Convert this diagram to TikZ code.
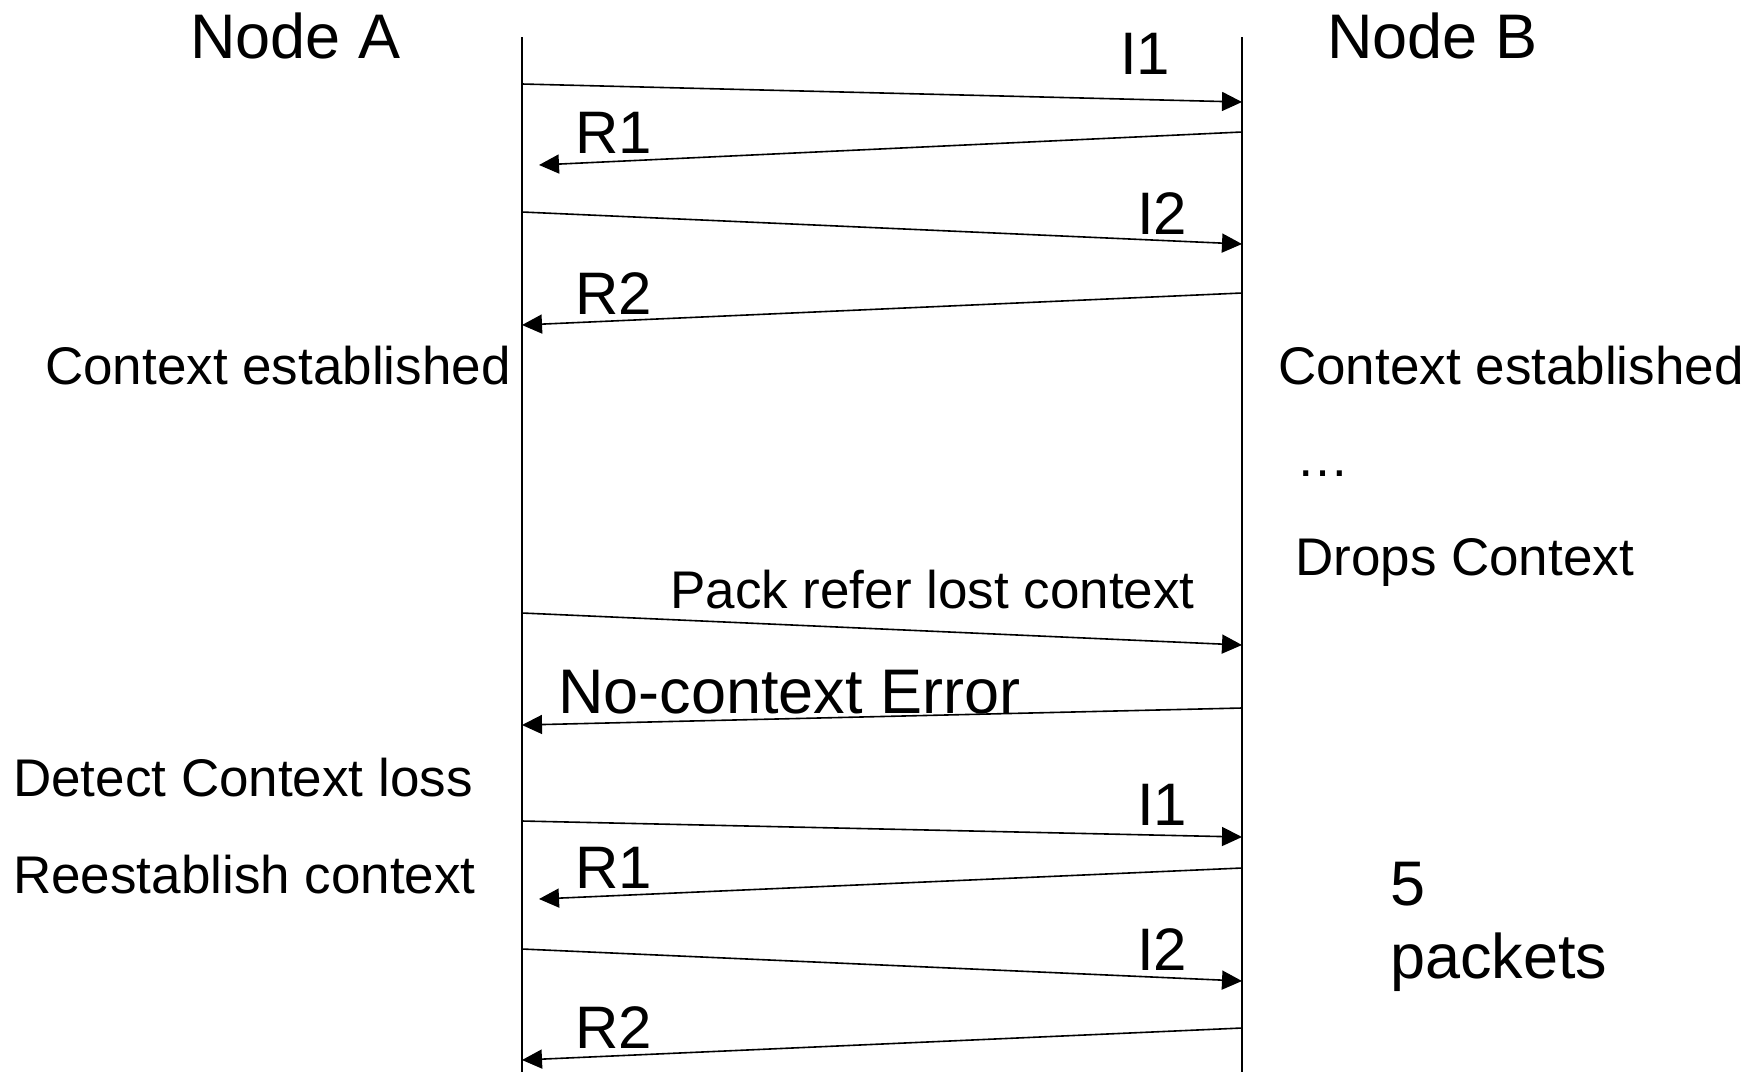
\documentclass[tikz,border=0pt]{standalone}
\usepackage{fontspec}
\setmainfont{Liberation Sans}
\usetikzlibrary{arrows.meta}
\begin{document}
\begin{tikzpicture}[x=1pt,y=-1pt,
  lbl/.style={anchor=base west, inner sep=0pt, font=\fontsize{53}{60}\selectfont},
  msg/.style={anchor=base west, inner sep=0pt, font=\fontsize{60}{66}\selectfont},
  big/.style={anchor=base west, inner sep=0pt, font=\fontsize{63}{70}\selectfont},
  life/.style={line width=1.6pt},
  arr/.style={line width=1.6pt, -{Triangle[length=20pt,width=19pt]}}]
\useasboundingbox (0,0) rectangle (1756,1072);
% lifelines
\coordinate (Atop) at (522,37);
\coordinate (Abot) at (522,1072);
\coordinate (Btop) at (1242,37);
\coordinate (Bbot) at (1242,1072);
\draw[life] (Atop) -- (Abot);
\draw[life] (Btop) -- (Bbot);
% headers
\node[big] (nA) at (190,58) {Node A};
\node[big] (nB) at (1327,58) {Node B};
% message endpoints
\coordinate (i1s) at (522,84);   \coordinate (i1e) at (1242,102);
\coordinate (r1s) at (1242,132); \coordinate (r1e) at (539,165);
\coordinate (i2s) at (522,212);  \coordinate (i2e) at (1242,244);
\coordinate (r2s) at (1242,293); \coordinate (r2e) at (522,325);
\coordinate (pks) at (522,613);  \coordinate (pke) at (1242,645);
\coordinate (nes) at (1242,708); \coordinate (nee) at (522,725);
\coordinate (j1s) at (522,821);  \coordinate (j1e) at (1242,837);
\coordinate (q1s) at (1242,868); \coordinate (q1e) at (539,899);
\coordinate (j2s) at (522,949);  \coordinate (j2e) at (1242,981);
\coordinate (q2s) at (1242,1028);\coordinate (q2e) at (522,1060);
\draw[arr] (i1s) -- (i1e);
\draw[arr] (r1s) -- (r1e);
\draw[arr] (i2s) -- (i2e);
\draw[arr] (r2s) -- (r2e);
\draw[arr] (pks) -- (pke);
\draw[arr] (nes) -- (nee);
\draw[arr] (j1s) -- (j1e);
\draw[arr] (q1s) -- (q1e);
\draw[arr] (j2s) -- (j2e);
\draw[arr] (q2s) -- (q2e);
% message labels
\node[msg] (l1) at (1120,74) {I1};
\node[msg] (l2) at (575,153) {R1};
\node[msg] (l3) at (1137,234) {I2};
\node[msg] (l4) at (575,314) {R2};
\node[lbl] (l5) at (670,608) {Pack refer lost context};
\node[big] (l6) at (558,713) {No-context Error};
\node[msg] (l7) at (1137,825) {I1};
\node[msg] (l8) at (575,888) {R1};
\node[msg] (l9) at (1137,970) {I2};
\node[msg] (l10) at (575,1048) {R2};
% side notes
\node[lbl] (cA) at (45,384) {Context established};
\node[lbl] (cB) at (1278,384) {Context established};
\node[lbl] (dots) at (1296,476) {…};
\node[lbl] (drop) at (1295,575) {Drops Context};
\node[lbl] (det) at (13,796) {Detect Context loss};
\node[lbl] (re) at (13,893) {Reestablish context};
\node[big] (five) at (1390,905) {5};
\node[big] (pkts) at (1390,978) {packets};
\end{tikzpicture}
\end{document}
